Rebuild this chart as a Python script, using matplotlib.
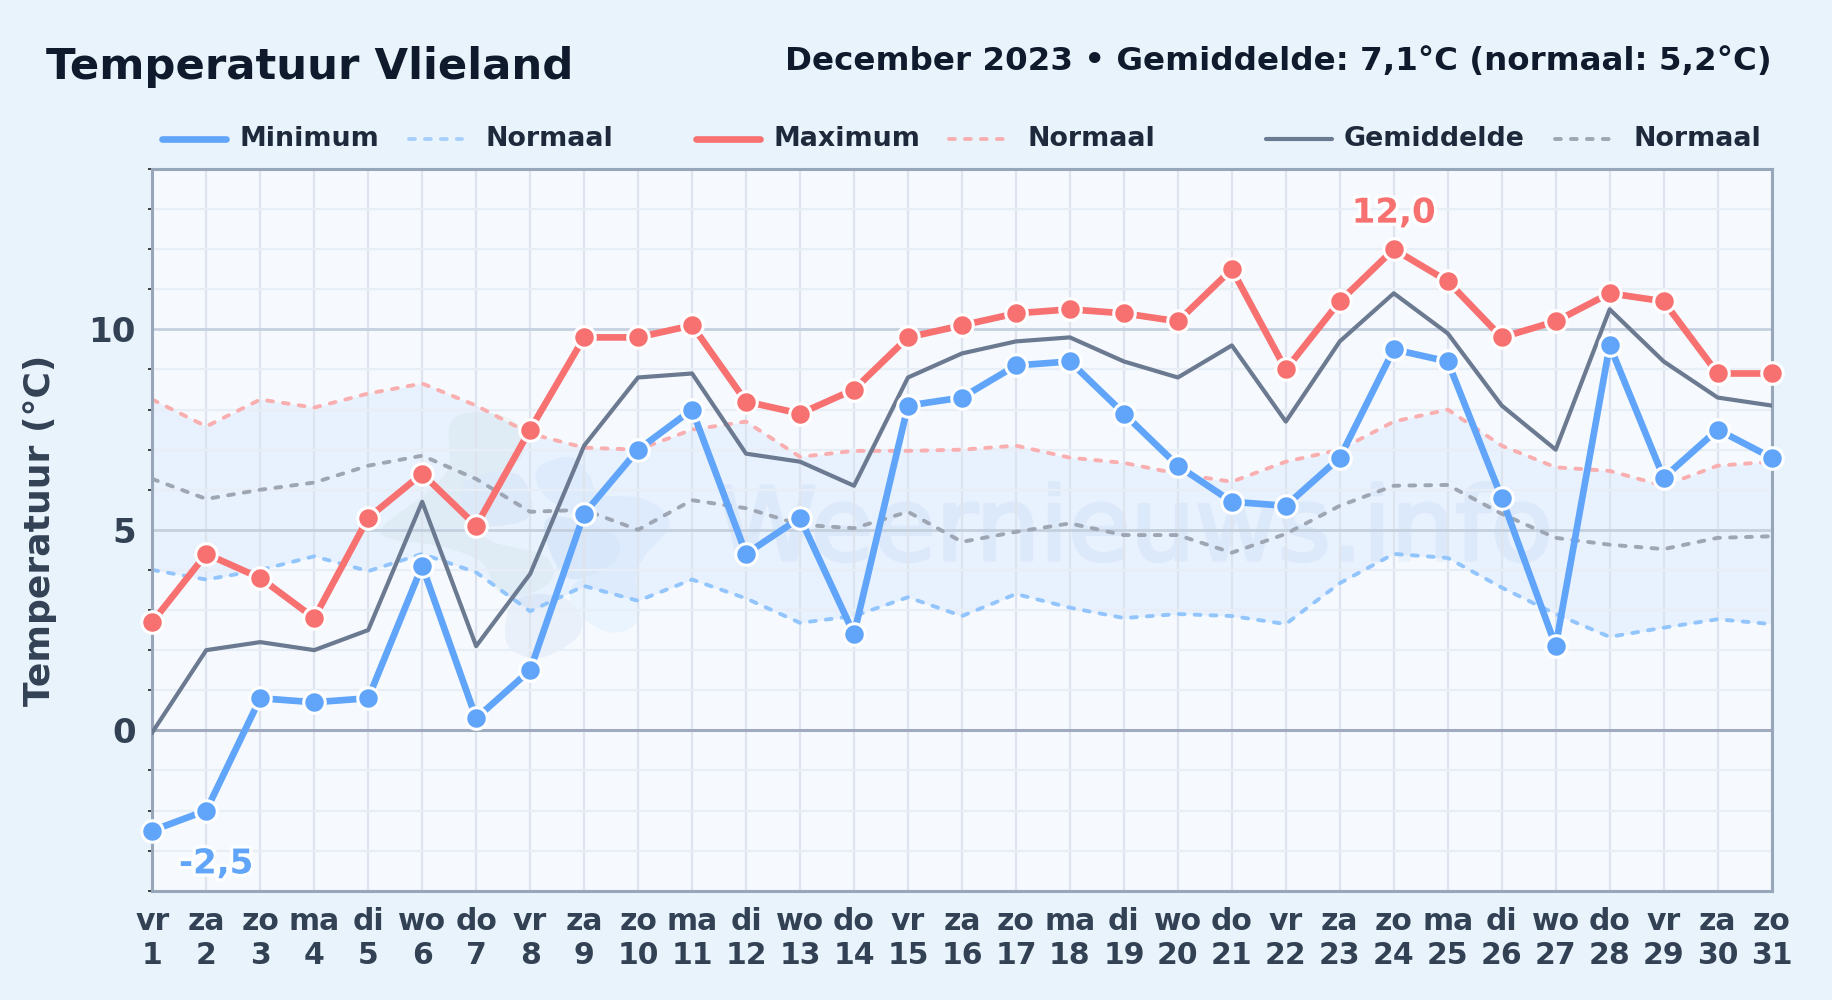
import matplotlib
matplotlib.use("Agg")
import matplotlib.pyplot as plt
import matplotlib.patheffects as pe
from matplotlib.lines import Line2D
from matplotlib.patches import Polygon
from matplotlib.ticker import MultipleLocator
import numpy as np

plt.rcParams['font.family'] = 'DejaVu Sans'
plt.rcParams['font.weight'] = 'bold'

days = list(range(1, 32))
weekdays = ["vr","za","zo","ma","di","wo","do"] * 4 + ["vr","za","zo"]
t_min = [-2.5,-2.0,0.8,0.7,0.8,4.1,0.3,1.5,5.4,7.0,8.0,4.4,5.3,2.4,8.1,8.3,9.1,9.2,7.9,6.6,5.7,5.6,6.8,9.5,9.2,5.8,2.1,9.6,6.3,7.5,6.8]
t_max = [2.7,4.4,3.8,2.8,5.3,6.4,5.1,7.5,9.8,9.8,10.1,8.2,7.9,8.5,9.8,10.1,10.4,10.5,10.4,10.2,11.5,9.0,10.7,12.0,11.2,9.8,10.2,10.9,10.7,8.9,8.9]
t_avg = [-0.05,2.0,2.2,2.0,2.5,5.7,2.1,3.9,7.1,8.8,8.9,6.9,6.7,6.1,8.8,9.4,9.7,9.8,9.2,8.8,9.6,7.7,9.7,10.9,9.9,8.1,7.0,10.5,9.2,8.3,8.1]
norm_min = [4.0,3.76,4.0,4.34,3.97,4.4,3.94,2.97,3.6,3.23,3.76,3.29,2.68,2.85,3.32,2.85,3.4,3.06,2.8,2.9,2.85,2.65,3.67,4.4,4.3,3.56,2.9,2.33,2.56,2.77,2.65]
norm_max = [8.25,7.58,8.25,8.05,8.4,8.65,8.1,7.4,7.05,7.0,7.5,7.7,6.82,6.97,6.97,7.0,7.1,6.8,6.67,6.4,6.2,6.7,7.0,7.7,8.0,7.1,6.56,6.47,6.1,6.6,6.7]
norm_avg = [6.27,5.77,6.0,6.18,6.6,6.85,6.27,5.45,5.5,5.0,5.74,5.54,5.13,5.04,5.45,4.7,4.95,5.16,4.87,4.87,4.43,4.9,5.6,6.1,6.12,5.4,4.8,4.63,4.52,4.8,4.84]

W, H = 1832, 1000
L, R, T, B = 152.3, 1771.6, 169.0, 890.7
BG = "#e8f3fc"; INK = "#0f1a2c"; INK2 = "#1e293b"; TICK = "#334155"
BLUE = "#60a5fa"; RED = "#f87171"

fig = plt.figure(figsize=(W/100, H/100), dpi=100, facecolor=BG)
ax = fig.add_axes([L/W, 1-B/H, (R-L)/W, (B-T)/H], facecolor="#f6faff")
ax.set_xlim(1, 31); ax.set_ylim(-4, 14)

def fx(px): return px / W
def fy(py): return 1 - py / H

def blob(pts, colour):
    # closed Catmull-Rom through crop coordinates, drawn in figure fractions
    p = np.array(pts, float)
    n = len(p)
    t = np.linspace(0, 1, 14, endpoint=False)[:, None]
    out = []
    for i in range(n):
        a, b, c, d = p[i-1], p[i], p[(i+1) % n], p[(i+2) % n]
        out.append(0.5*((2*b) + (c-a)*t + (2*a-5*b+4*c-d)*t**2 + (3*b-a-3*c+d)*t**3))
    out = np.vstack(out)
    xy = np.column_stack([fx(350 + out[:, 0]/3), fy(380 + out[:, 1]/3)])
    ax.add_patch(Polygon(xy, closed=True, transform=fig.transFigure, facecolor=colour,
                         edgecolor=colour, lw=4, joinstyle='round', zorder=0.2))

# faint logo
blob([(310,130),(400,105),(500,140),(505,230),(420,275),(345,290),(330,400),(420,490),(570,530),(600,590),(530,635),(450,630),(400,540),(270,490),(130,470),(110,440),(240,340),(305,260)], "#edf5f5")
blob([(345,320),(430,285),(510,300),(535,400),(440,430),(360,420)], "#e8f1fa")
blob([(490,680),(570,650),(670,680),(680,760),(570,825),(480,790)], "#e9f0f9")
blob([(570,270),(660,240),(710,290),(745,350),(880,365),(950,430),(880,520),(850,590),(860,710),(790,750),(710,710),(670,630),(785,545),(800,480),(700,410),(590,340)], "#eaf4fe")
blob([(600,420),(770,460),(795,530),(680,590),(620,540)], "#e6effb")

# watermark text
ax.text(fx(1135), fy(532), "Weernieuws.info", transform=fig.transFigure, ha='center', va='center',
        fontsize=73, fontweight='normal', color="#e9f1fb", zorder=0.3,
        path_effects=[pe.withStroke(linewidth=2.5, foreground="#e9f1fb")])

# band between the normal minimum and maximum
ax.fill_between(days, norm_min, norm_max, color="#3b82f6", alpha=0.07, lw=0, zorder=0.5)

# grid
ax.xaxis.set_major_locator(MultipleLocator(1))
ax.yaxis.set_major_locator(MultipleLocator(5))
ax.yaxis.set_minor_locator(MultipleLocator(1))
ax.grid(True, axis='x', which='major', color="#dde4ee", lw=1.6, zorder=1)
ax.grid(True, axis='y', which='minor', color="#e8eef5", lw=1.6, zorder=1)
ax.grid(True, axis='y', which='major', color="#c5d0df", lw=2.0, zorder=1.1)
ax.axhline(0, color="#a0abbd", lw=2.2, zorder=1.2)
ax.set_axisbelow(True)

ds = (0, (1.5, 2.6))
ax.plot(days, norm_min, color="#93c5fd", lw=2.8, ls=ds, dash_capstyle='round', zorder=2, label="Normaal")
ax.plot(days, norm_max, color="#f9afaf", lw=2.8, ls=ds, dash_capstyle='round', zorder=2, label="Normaal")
ax.plot(days, norm_avg, color="#9ea6b3", lw=2.8, ls=ds, dash_capstyle='round', zorder=2, label="Normaal")
ax.plot(days, t_avg, color="#6b7a90", lw=3.0, zorder=3, label="Gemiddelde")
ax.plot(days, t_max, color=RED, lw=4.8, marker='o', ms=15.5, mfc=RED, mec="white", mew=2.2,
        clip_on=False, zorder=4, label="Maximum")
ax.plot(days, t_min, color=BLUE, lw=4.8, marker='o', ms=15.5, mfc=BLUE, mec="white", mew=2.2,
        clip_on=False, zorder=5, label="Minimum")

halo = [pe.withStroke(linewidth=5, foreground="white", alpha=0.85)]
imin = int(np.argmin(t_min)); imax = int(np.argmax(t_max))
ax.annotate(f"{t_min[imin]:.1f}".replace(".", ","), xy=(days[imin], t_min[imin]), xytext=(46, -24),
            textcoords='offset points', ha='center', va='center', fontsize=24.5, color=BLUE,
            path_effects=halo, zorder=6)
ax.annotate(f"{t_max[imax]:.1f}".replace(".", ","), xy=(days[imax], t_max[imax]), xytext=(0, 26),
            textcoords='offset points', ha='center', va='center', fontsize=24.5, color=RED,
            path_effects=halo, zorder=6)

for s in ax.spines.values():
    s.set_color("#98a6ba"); s.set_linewidth(2.2)
ax.set_xticks(days)
ax.set_xticklabels([f"{w}\n{d}" for w, d in zip(weekdays, days)], fontsize=21.5, color=TICK, linespacing=1.22)
ax.set_yticks([0, 5, 10])
ax.set_yticklabels(["0", "5", "10"], fontsize=24.5, color=TICK)
ax.tick_params(axis='x', which='major', length=0, pad=12)
ax.tick_params(axis='y', which='major', length=0, pad=12)
ax.tick_params(axis='y', which='minor', length=3, width=1.2, color="#222222")
fig.text(fx(40), fy(530), "Temperatuur (°C)", rotation=90, ha='center', va='center', fontsize=26, color=TICK)

fig.text(fx(46), fy(67.5), "Temperatuur Vlieland", ha='left', va='center', fontsize=31.2, color=INK)
fig.text(fx(1771.5), fy(61.5), "December 2023 • Gemiddelde: 7,1°C (normaal: 5,2°C)", ha='right', va='center',
         fontsize=23.4, color=INK)

legend_items = [
    (162, 226, 240, "Minimum", BLUE, 4.8, '-'),
    (409, 462, 486, "Normaal", "#a9d0fb", 2.8, ds),
    (696, 760, 773, "Maximum", RED, 4.8, '-'),
    (949, 1003, 1027, "Normaal", "#f9afaf", 2.8, ds),
    (1266, 1332, 1344, "Gemiddelde", "#6b7a90", 3.0, '-'),
    (1555, 1617, 1633, "Normaal", "#9ea6b3", 2.8, ds),
]
ly = 138.5
for x0, x1, xt, lab, col, lw, ls in legend_items:
    fig.add_artist(Line2D([fx(x0), fx(x1)], [fy(ly), fy(ly)], transform=fig.transFigure, color=col, lw=lw, ls=ls,
                          solid_capstyle='round', dash_capstyle='round'))
    fig.text(fx(xt), fy(ly), lab, ha='left', va='center', fontsize=19.4, color=INK2)

fig.savefig("out.png", dpi=100, facecolor=BG)
